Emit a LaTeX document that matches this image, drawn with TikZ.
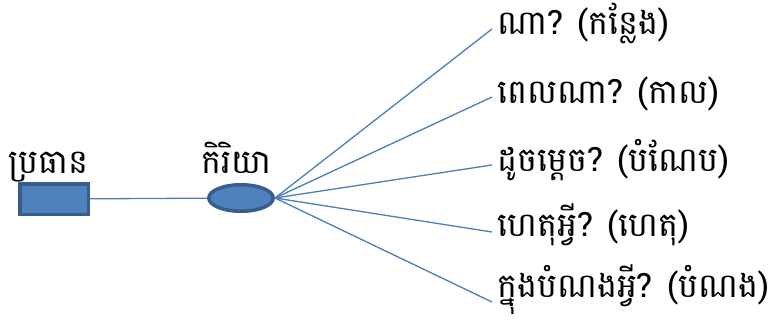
\documentclass[tikz,border=0pt]{standalone}
\usepackage{fontspec}
\newfontfamily\khmer[Script=Khmer]{Battambang}
\usetikzlibrary{shapes.geometric}
\definecolor{boxfill}{HTML}{4F81BD}
\definecolor{boxline}{HTML}{385D8A}
\definecolor{edgeblue}{HTML}{4A7EBB}

\begin{document}
\begin{tikzpicture}[x=1pt,y=-1pt]
                \useasboundingbox (0,0) rectangle (784,329);
                \tikzstyle{word}=[inner sep=0pt,font=\khmer\fontsize{33.5}{40}\selectfont]
                \tikzstyle{edge}=[draw=edgeblue,line width=1.3pt]
                \newcommand\question[4]{\coordinate (#1) at (492,#2);%
                \node[word,anchor=base west] at (497,#3) (t#1) {#4};}
                \node[draw=boxline,fill=boxfill,line width=3.5pt,minimum width=68.5pt,minimum height=30.5pt] at (54,199) (subj) {};
                \node[word,anchor=base] at (48.5,173) (subjlabel) {ប្រធាន};
                \node[ellipse,draw=boxline,fill=boxfill,line width=3.5pt,inner sep=0pt,minimum width=64.5pt,minimum height=26.5pt] at (241,198) (verb) {};
                \node[word,anchor=base] at (236,173) (verblabel) {កិរិយា};
                \question{q1}{29}{35}{ណា? (កន្លែង)};
                \question{q2}{97}{103}{ពេលណា? (កាល)};
                \question{q3}{165}{171}{ដូចម្ដេច? (បំណែប)};
                \question{q4}{232}{236}{ហេតុអ្វី? (ហេតុ)};
                \question{q5}{302}{297}{ក្នុងបំណងអ្វី? (បំណង)};
                \draw[edge] (subj) -- (verb);
                \foreach \q in {q1,q2,q3,q4,q5} \draw[edge] (verb.east) -- (\q);
            \end{tikzpicture}
\end{document}
